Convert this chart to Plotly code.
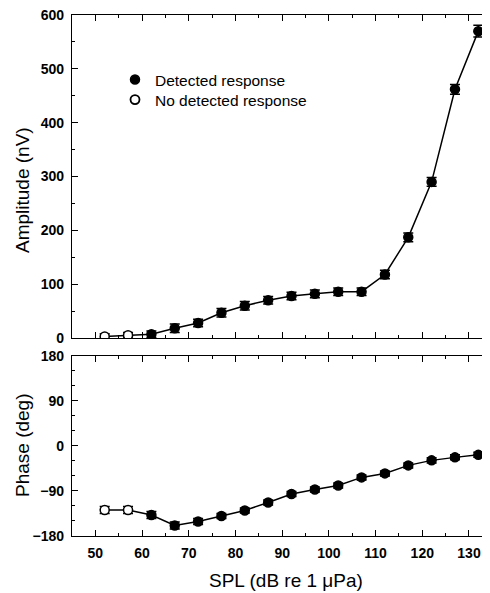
import plotly.graph_objects as go
from plotly.subplots import make_subplots

spl = [52, 57, 62, 67, 72, 77, 82, 87, 92, 97, 102, 107, 112, 117, 122, 127, 132]
amplitude = [3, 5, 7, 18, 28, 47, 60, 70, 78, 82, 86, 86, 118, 187, 290, 462, 570]
amplitude_err = [5, 5, 6, 8, 7, 8, 8, 7, 7, 7, 7, 7, 8, 8, 8, 9, 11]
phase = [-128, -128, -138, -159, -151, -140, -129, -113, -96, -87, -79, -63, -55, -39, -29, -23, -18]
phase_err = [7, 7, 7, 7, 6, 5, 5, 5, 5, 5, 5, 5, 5, 5, 5, 5, 5]
detected = [False, False] + [True] * 15

x_ticks = [50, 60, 70, 80, 90, 100, 110, 120, 130]
amp_ticks = [0, 100, 200, 300, 400, 500, 600]
phase_ticks = [-180, -90, 0, 90, 180]

FONT = "Liberation Sans, Arial, sans-serif"
# page has an 8px body margin; figure is sized so its right/bottom edges meet the window
W, H = 482, 585
ML, MR, MT, MB = 64, 0, 7, 57
PW = W - ML - MR
PH = H - MT - MB


def px(page_x):
    return (page_x - 8 - ML) / PW


def py(page_y):
    return (H - MB + 8 - page_y) / PH


fill = ["black" if d else "white" for d in detected]

fig = make_subplots(rows=2, cols=1, shared_xaxes=False, vertical_spacing=0.0)

for row, yv, ye in [(1, amplitude, amplitude_err), (2, phase, phase_err)]:
    fig.add_trace(go.Scatter(
        x=spl, y=yv, mode="lines+markers",
        line=dict(color="black", width=1.5),
        marker=dict(size=9, color=fill, line=dict(color="black", width=1.5)),
        error_y=dict(type="data", array=ye, visible=True, color="black", thickness=1.5, width=5),
        showlegend=False, hoverinfo="skip"), row=row, col=1)

fig.add_trace(go.Scatter(x=[None], y=[None], mode="markers", name="Detected response",
                         legend="legend",
                         marker=dict(size=9, color="black", line=dict(color="black", width=1.5))),
              row=1, col=1)
fig.add_trace(go.Scatter(x=[None], y=[None], mode="markers", name="No detected response",
                         legend="legend2",
                         marker=dict(size=9, color="white", line=dict(color="black", width=1.8))),
              row=1, col=1)

top_dom = [py(338), 1.0]
bot_dom = [0.0, py(355.7)]

axis_common = dict(showline=True, linecolor="black", linewidth=1.2, mirror="allticks",
                   ticks="inside", ticklen=6, tickwidth=1.2, tickcolor="black",
                   showgrid=False, zeroline=False, ticklabeloverflow="allow",
                   tickfont=dict(family=FONT, size=14, color="black", weight="bold"))

xrange = [45, 134.5]
fig.update_xaxes(range=xrange, tickvals=x_ticks, **axis_common,
                 minor=dict(dtick=5, tick0=0, ticklen=3, ticks="inside", tickcolor="black", tickwidth=1.2))
fig.update_xaxes(showticklabels=False, row=1, col=1)
fig.update_xaxes(ticklabelstandoff=4, row=2, col=1)

fig.update_yaxes(range=[0, 600], tickvals=amp_ticks, domain=top_dom, ticklabelstandoff=4,
                 minor=dict(dtick=50, tick0=0, ticklen=3, ticks="inside", tickcolor="black", tickwidth=1.2),
                 **axis_common, row=1, col=1)
fig.update_yaxes(range=[-180, 180], tickvals=phase_ticks, domain=bot_dom, ticklabelstandoff=4,
                 minor=dict(dtick=30, tick0=0, ticklen=3, ticks="inside", tickcolor="black", tickwidth=1.2),
                 **axis_common, row=2, col=1)

title_font = dict(family=FONT, size=19, color="black")
fig.add_annotation(text="Amplitude (nV)", xref="paper", yref="paper",
                   x=px(22), y=py(190), textangle=-90, showarrow=False, font=title_font,
                   xanchor="center", yanchor="middle")
fig.add_annotation(text="Phase (deg)", xref="paper", yref="paper",
                   x=px(22), y=py(445), textangle=-90, showarrow=False, font=title_font,
                   xanchor="center", yanchor="middle")
fig.add_annotation(text="SPL (dB re 1 μPa)", xref="paper", yref="paper",
                   x=px(286), y=py(580), showarrow=False, font=title_font,
                   xanchor="center", yanchor="middle")

leg_common = dict(xanchor="left", yanchor="top", bgcolor="rgba(0,0,0,0)", borderwidth=0,
                  font=dict(family=FONT, size=15.5, color="black"))
fig.update_layout(
    width=W, height=H, margin=dict(l=ML, r=MR, t=MT, b=MB),
    paper_bgcolor="white", plot_bgcolor="white",
    showlegend=True,
    legend=dict(x=px(115), y=py(63), **leg_common),
    legend2=dict(x=px(115), y=py(83), **leg_common),
)

fig.write_html("out.html")
